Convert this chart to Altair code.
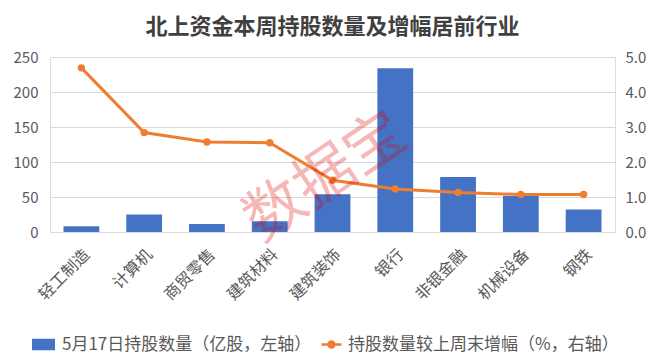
import altair as alt
import pandas as pd

categories = ["轻工制造", "计算机", "商贸零售", "建筑材料", "建筑装饰", "银行", "非银金融", "机械设备", "钢铁"]
holdings = [8.2, 25, 11.5, 15.3, 54, 234, 78.5, 51.5, 32]
growth = [4.69, 2.84, 2.57, 2.55, 1.48, 1.23, 1.13, 1.07, 1.07]
bar_label = "5月17日持股数量（亿股，左轴）"
line_label = "持股数量较上周末增幅（%，右轴）"
left_ticks = [0, 50, 100, 150, 200, 250]
right_ticks = [0, 1, 2, 3, 4, 5]
title_text = "北上资金本周持股数量及增幅居前行业"
watermark_text = ["数据宝"]

FONT = "Noto Sans CJK SC"
GRAY = "#595959"
BLUE = "#4472C4"
ORANGE = "#ED7D31"

df = pd.DataFrame({"行业": categories, "持股数量": holdings, "增幅": growth,
                   "s1": bar_label, "s2": line_label})

x_enc = alt.X("行业:N", sort=categories,
              scale=alt.Scale(paddingInner=0.43, paddingOuter=0.215),
              axis=alt.Axis(title=None, labelAngle=-45, labelFontSize=16, labelColor=GRAY,
                            labelFont=FONT, ticks=False, domain=False, labelPadding=14))

bars = alt.Chart(df).mark_bar().encode(
    x=x_enc,
    y=alt.Y("持股数量:Q", scale=alt.Scale(domain=[0, 250], nice=False),
            axis=alt.Axis(title=None, values=left_ticks, grid=True, gridColor="#d9d9d9",
                          domain=False, ticks=False, labelPadding=12, labelFontSize=15,
                          labelColor=GRAY, labelFont=FONT)),
    fill=alt.Fill("s1:N", scale=alt.Scale(domain=[bar_label], range=[BLUE]),
                  legend=alt.Legend(title=None, orient="none", legendX=-18, legendY=276,
                                    symbolType="M-1,-0.5H1V0.5H-1Z", symbolSize=529,
                                    symbolStrokeWidth=0, labelOffset=7, labelFontSize=17,
                                    labelFont=FONT, labelColor=GRAY, labelLimit=400, padding=0)),
)

right_axis = alt.Axis(title=None, orient="right", values=right_ticks, format=".1f", grid=False,
                      domain=False, ticks=False, labelPadding=10, labelFontSize=15,
                      labelColor=GRAY, labelFont=FONT)
right_scale = alt.Scale(domain=[0, 5], nice=False)

line = alt.Chart(df).mark_line(strokeWidth=3).encode(
    x=alt.X("行业:N", sort=categories),
    y=alt.Y("增幅:Q", scale=right_scale, axis=right_axis),
    stroke=alt.Stroke("s2:N", scale=alt.Scale(domain=[line_label], range=[ORANGE]),
                      legend=alt.Legend(title=None, orient="none", legendX=270, legendY=276,
                                        symbolType="M-1,0H1M-0.3,0A0.3,0.3,0,1,1,0.3,0A0.3,0.3,0,1,1,-0.3,0",
                                        symbolSize=400, symbolStrokeWidth=2.5,
                                        symbolFillColor=ORANGE, labelOffset=5,
                                        labelFontSize=17, labelFont=FONT, labelColor=GRAY,
                                        labelLimit=400, padding=0)),
)

points = alt.Chart(df).mark_circle(size=55, color=ORANGE, opacity=1).encode(
    x=alt.X("行业:N", sort=categories),
    y=alt.Y("增幅:Q", scale=right_scale, axis=right_axis),
)

right_layer = alt.layer(line, points)

watermark = alt.Chart(pd.DataFrame({"t": watermark_text})).mark_text(
    angle=326, fontSize=60, font=FONT, color="#e00000", opacity=0.28
).encode(text="t:N", x=alt.value(276), y=alt.value(121))

chart = alt.layer(bars, right_layer, watermark).resolve_scale(y="independent").properties(
    width=565, height=175,
    padding={"left": 42, "top": 49, "right": 37, "bottom": 122},
    autosize=alt.AutoSizeParams(type="none"),
    title=alt.TitleParams(title_text, fontSize=22, font=FONT, fontWeight="bold",
                          color="#404040", offset=11, anchor="middle"),
).configure_view(stroke=None).configure(background="white")

chart.save("out.html", embed_options={"renderer": "svg", "actions": False})
